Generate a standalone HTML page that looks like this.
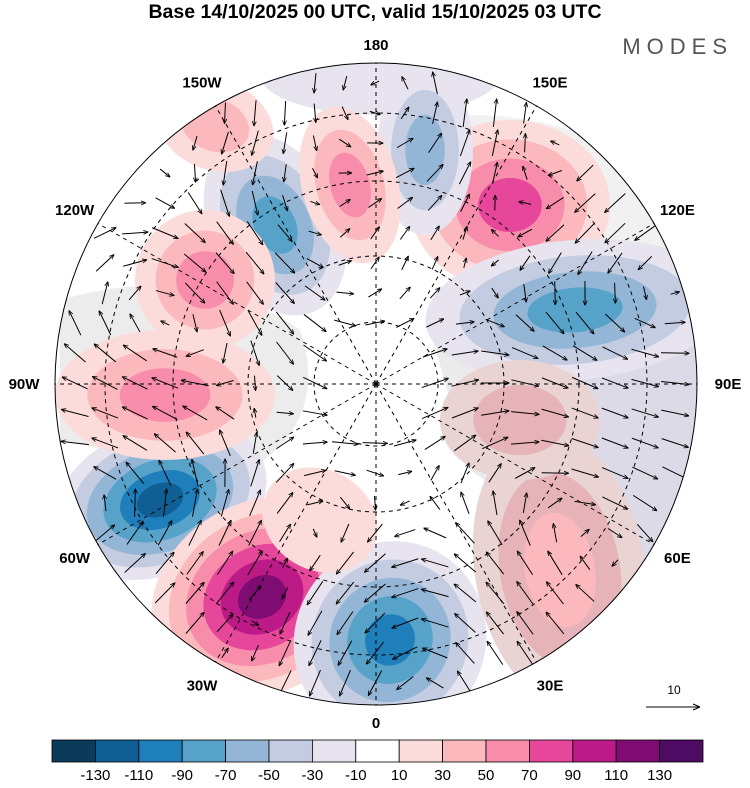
<!DOCTYPE html>
<html><head><meta charset="utf-8"><style>
body{margin:0;background:#fff;width:750px;height:783px;overflow:hidden;font-family:"Liberation Sans",sans-serif}
</style></head><body>
<svg width="750" height="783" viewBox="0 0 750 783">
<text x="375" y="18" text-anchor="middle" font-size="19.5" font-weight="bold">Base 14/10/2025 00 UTC, valid 15/10/2025 03 UTC</text>
<text x="733" y="54" text-anchor="end" font-size="22" letter-spacing="6" fill="#555">MODES</text>
<defs><clipPath id="disk"><circle cx="376" cy="384" r="321"/></clipPath>
<marker id="ah" viewBox="0 0 10 10" refX="9" refY="5" markerWidth="5" markerHeight="5" orient="auto"><path d="M0 1 L10 5 L0 9" fill="none" stroke="#000" stroke-width="1.6"/></marker></defs>
<g clip-path="url(#disk)" id="field">
<rect x="0" y="0" width="750" height="783" fill="#fff"/>
<path d="M60 300 Q200 260 300 330 Q330 420 250 470 Q150 460 60 440 Z" fill="#ececec"/>
<path d="M430 330 Q520 300 700 330 L700 520 Q600 560 470 470 Z" fill="#ebebeb"/>
<path d="M420 120 Q520 100 650 160 L690 260 Q560 280 440 250 Z" fill="#f1f1f1"/>
</g>
<g id="arrows" clip-path="url(#disk)" stroke="#000" stroke-width="1" fill="none"></g>
<g id="grid" clip-path="url(#disk)" stroke="#000" stroke-width="1" stroke-dasharray="4,4" fill="none"></g>
<circle cx="376" cy="384" r="321" fill="none" stroke="#000" stroke-width="1"/>
<g id="labels" font-size="15" font-weight="bold" text-anchor="middle"></g>
<g>
<text x="674" y="694" font-size="12" text-anchor="middle">10</text>
<line x1="646" y1="707" x2="700" y2="707" stroke="#000"/><path d="M700 707 l-7 -3 M700 707 l-7 3" stroke="#000"/>
</g>
<g id="cbar"></g>
</svg>
<script>
const NS='http://www.w3.org/2000/svg';
const cbColors=['#0b3b5a','#0f5f94','#1f7fbb','#57a2c9','#94b6d6','#c3cce0','#e7e4f0','#ffffff','#fcdcdb','#fbb9bd','#f78cab','#e7479a','#bb1a87','#7f0c72','#4d0b64'];
const cbTicks=[-130,-110,-90,-70,-50,-30,-10,10,30,50,70,90,110,130];
const lonLabels=['0','30E','60E','90E','120E','150E','180','150W','120W','90W','60W','30W'];
const muted=['#ead3d3','#e6b3b8','#dcdae6'];
// blobs: centre, radii, rotation, colour level indices (outer->inner), sign of anomaly
const blobCx=[640,380,160,262,390,560,510,575,275,425,350,215,205,165,520,320];
const blobCy=[440,75,500,597,640,570,205,310,225,150,185,125,280,395,420,520];
const blobRx=[80,120,110,115,95,85,100,150,65,48,48,60,70,110,80,60];
const blobRy=[140,40,75,95,100,140,85,70,95,85,80,45,70,65,60,50];
const blobRot=[0,0,-20,-30,30,-10,0,-5,-25,0,-15,20,-20,0,0,30];
const blobLevels=[['m2'],[6],[6,5,4,3,2,1],[8,9,10,11,12,13],[6,5,4,3,2],['m0','m1',9],[8,9,10,11],[6,5,4,3],[6,5,4,3],[6,5,4],[8,9,10],[8,9],[8,9,10],[8,9,10],['m0','m1'],[8]];
const cx=376,cy=384,R=321;
const field=document.getElementById('field');
blobCx.forEach((x,i)=>{
  const lv=blobLevels[i];
  lv.forEach((c,k)=>{
    const f=1-k/(lv.length+0.4);
    const e=document.createElementNS(NS,'ellipse');
    
    
    e.setAttribute('cx',x);e.setAttribute('cy',blobCy[i]);
    e.setAttribute('rx',blobRx[i]*f);e.setAttribute('ry',blobRy[i]*f);
    e.setAttribute('transform',`rotate(${blobRot[i]} ${x} ${blobCy[i]})`);
    e.setAttribute('fill',typeof c==='string'?muted[+c[1]]:cbColors[c]);
    field.appendChild(e);
  });
});
const pole=document.createElementNS(NS,'circle');


pole.setAttribute('cx',cx);pole.setAttribute('cy',cy);pole.setAttribute('r',58);pole.setAttribute('fill','#fff');
field.appendChild(pole);
// wind arrows: circulation around blobs
const arrows=document.getElementById('arrows');
const sgn=blobLevels.map(l=>{const c=l[l.length-1];return (typeof c==='string'||c>=8)?1:-1;});
for(let gy=cy-R+20;gy<cy+R;gy+=30){for(let gx=cx-R+20;gx<cx+R;gx+=30){
  const d=Math.hypot(gx-cx,gy-cy); if(d>R-8||d<55) continue;
  let u=0,v=0;
  blobCx.forEach((bx,i)=>{const dx=gx-bx,dy=gy-blobCy[i];const s=(blobRx[i]+blobRy[i])/1.6;
    const w=Math.exp(-(dx*dx+dy*dy)/(2*s*s))*blobLevels[i].length;
    u+= -sgn[i]*dy/s*w; v+= sgn[i]*dx/s*w;});
  const m=Math.hypot(u,v); if(m<0.05) continue;
  const L=Math.min(28,6+m*14);
  const l=document.createElementNS(NS,'line');
  
  
  l.setAttribute('x1',gx-u/m*L/2);l.setAttribute('y1',gy-v/m*L/2);
  l.setAttribute('x2',gx+u/m*L/2);l.setAttribute('y2',gy+v/m*L/2);
  l.setAttribute('marker-end','url(#ah)');
  arrows.appendChild(l);
}}
const grid=document.getElementById('grid');
[62,128,203,271].forEach(r=>{const c=document.createElementNS(NS,'circle');


c.setAttribute('cx',cx);c.setAttribute('cy',cy);c.setAttribute('r',r);grid.appendChild(c);});
const labels=document.getElementById('labels');
lonLabels.forEach((t,i)=>{
  const a=i*Math.PI/6;
  const l=document.createElementNS(NS,'line');
  
  
  l.setAttribute('x1',cx);l.setAttribute('y1',cy);
  l.setAttribute('x2',cx+R*Math.sin(a));l.setAttribute('y2',cy+R*Math.cos(a));
  grid.appendChild(l);
  const tx=document.createElementNS(NS,'text');
  
  
  const rr=(i%3==0)?(i%6==0?339:352):348;
  tx.setAttribute('x',cx+rr*Math.sin(a));tx.setAttribute('y',cy+rr*Math.cos(a)+5);
  tx.textContent=t;labels.appendChild(tx);
});
const cbar=document.getElementById('cbar');
const x0=52,w=43.4,y0=740,h=22;
cbColors.forEach((c,i)=>{const r=document.createElementNS(NS,'rect');


r.setAttribute('x',x0+i*w);r.setAttribute('y',y0);r.setAttribute('width',w);r.setAttribute('height',h);
r.setAttribute('fill',c);r.setAttribute('stroke','#000');r.setAttribute('stroke-width','0.8');cbar.appendChild(r);});
cbTicks.forEach((t,i)=>{const tx=document.createElementNS(NS,'text');


tx.setAttribute('x',x0+(i+1)*w);tx.setAttribute('y',780);tx.setAttribute('text-anchor','middle');tx.setAttribute('font-size','15');
tx.textContent=t;cbar.appendChild(tx);});
</script>
</body></html>
